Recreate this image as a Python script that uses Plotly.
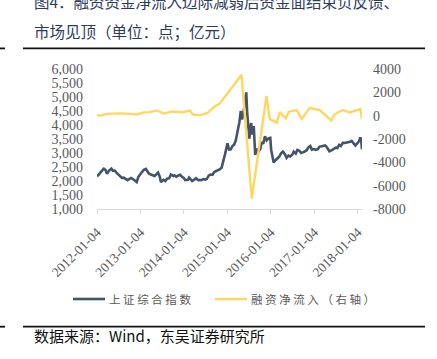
import plotly.graph_objects as go

# ---------------- data ----------------
sh_dates = [
    "2012-01-04","2012-01-16","2012-02-01","2012-02-15","2012-03-01","2012-03-15","2012-03-28","2012-04-16",
    "2012-05-04","2012-05-16","2012-06-01","2012-06-15","2012-07-02","2012-07-16","2012-08-01","2012-08-15",
    "2012-09-03","2012-09-17","2012-10-08","2012-10-15","2012-11-01","2012-11-15","2012-12-03","2012-12-17",
    "2013-01-04","2013-01-15","2013-02-01","2013-02-18","2013-03-01","2013-03-15","2013-04-01","2013-04-15",
    "2013-05-02","2013-05-15","2013-05-31","2013-06-14","2013-06-25","2013-07-15","2013-08-01","2013-08-15",
    "2013-09-02","2013-09-16","2013-10-08","2013-10-15","2013-11-01","2013-11-15","2013-12-02","2013-12-16",
    "2014-01-02","2014-01-15","2014-02-07","2014-02-17","2014-03-03","2014-03-14","2014-04-01","2014-04-15",
    "2014-05-05","2014-05-15","2014-06-03","2014-06-16","2014-07-01","2014-07-15","2014-08-01","2014-08-15",
    "2014-09-01","2014-09-15","2014-10-08","2014-10-15","2014-11-03","2014-11-17","2014-12-01","2014-12-15",
    "2015-01-05","2015-01-19","2015-02-02","2015-02-16","2015-03-02","2015-03-16","2015-04-01","2015-04-15",
    "2015-04-27","2015-05-07","2015-05-20","2015-06-01","2015-06-12","2015-06-19","2015-06-29","2015-07-08",
    "2015-07-15","2015-07-24","2015-07-28","2015-08-14","2015-08-26","2015-09-07","2015-09-15","2015-10-08",
    "2015-10-19","2015-11-02","2015-11-16","2015-12-01","2015-12-15","2015-12-31",
    "2016-01-07","2016-01-15","2016-01-28","2016-02-15","2016-03-01","2016-03-15","2016-04-01","2016-04-15",
    "2016-05-03","2016-05-16","2016-06-01","2016-06-15","2016-07-01","2016-07-15","2016-08-01","2016-08-15",
    "2016-09-01","2016-09-15","2016-10-10","2016-10-17","2016-11-01","2016-11-15","2016-12-01","2016-12-15",
    "2017-01-03","2017-01-16","2017-02-03","2017-02-15","2017-03-01","2017-03-15","2017-04-05","2017-04-17",
    "2017-05-02","2017-05-11","2017-06-01","2017-06-15","2017-07-03","2017-07-17","2017-08-01","2017-08-15",
    "2017-09-01","2017-09-15","2017-10-09","2017-10-16","2017-11-01","2017-11-14","2017-12-01","2017-12-15",
    "2018-01-02","2018-01-15","2018-01-26","2018-02-02","2018-02-09",
]
sh_values = [
    2170,2210,2300,2360,2440,2400,2260,2380,
    2440,2370,2370,2300,2220,2180,2110,2120,
    2050,2030,2090,2110,2070,2020,1960,2150,
    2270,2310,2400,2430,2360,2270,2230,2200,
    2180,2230,2300,2160,1960,2040,2000,2080,
    2100,2230,2180,2200,2150,2190,2220,2160,
    2110,2030,2040,2120,2060,2000,2050,2100,
    2030,2030,2040,2070,2050,2070,2200,2230,
    2220,2320,2360,2370,2420,2480,2680,2950,
    3350,3120,3130,3250,3300,3450,3800,4100,
    4500,4200,4450,4800,5166,4480,4050,3510,
    3850,4070,3660,3960,2930,3160,3000,3140,
    3390,3330,3600,3450,3520,3540,
    3120,2900,2660,2750,2800,2870,3000,3050,
    2950,2830,2910,2880,2930,3050,2980,3110,
    3080,3000,3040,3060,3100,3200,3250,3120,
    3140,3110,3140,3220,3240,3240,3270,3220,
    3140,3060,3100,3130,3190,3180,3290,3250,
    3360,3360,3370,3390,3400,3430,3320,3270,
    3350,3420,3560,3460,3130,
]

mf_dates = [
    "2012-01-04","2012-01-29","2012-03-28","2012-07-15","2012-10-07","2012-12-05",
    "2013-02-02","2013-03-24","2013-05-22","2013-07-20","2013-09-25","2013-12-26",
    "2014-02-23","2014-03-20","2014-05-18","2014-07-24","2014-09-21","2014-11-02",
    "2015-05-03","2015-07-28","2015-11-29","2015-12-27",
    "2016-02-23","2016-03-20","2016-05-09","2016-06-03","2016-08-09","2016-09-20","2016-11-27",
    "2017-02-18","2017-05-27","2017-06-23","2017-08-30","2017-10-27",
    "2018-01-26","2018-02-09",
]
mf_values = [
    50,0,150,200,150,100,
    280,300,450,180,350,300,
    430,100,30,250,800,1050,
    3500,-7100,1700,-300,
    -600,300,-250,340,480,-290,680,
    480,-400,120,490,280,
    560,-290,
]

x_tick_labels = ["2012-01-04","2013-01-04","2014-01-04","2015-01-04","2016-01-04","2017-01-04","2018-01-04"]
y2_tick_vals = [4000, 2000, 0, -2000, -4000, -6000, -8000]
y2_tick_text = ["4000", "2000", "0", "-2000", "-4000", "-6000", "-8000"]

name_sh = "上证综合指数"
name_mf = "融资净流入（右轴）"

# ---------------- figure ----------------
BLUE = "#44546A"
GOLD = "#FFD760"
GREY = "#595959"
CJK = "Noto Sans CJK SC"
SERIF = "'Liberation Serif', 'Times New Roman', 'DejaVu Serif', serif"

W, H = 437, 359
L, R, T, B = 97, 75, 69, 150
pw, ph = W - L - R, H - T - B

def px(xp):
    return (xp - L) / pw

def py(yp):
    return (H - B - yp) / ph

fig = go.Figure()
fig.add_trace(go.Scatter(x=sh_dates, y=sh_values, mode="lines", name=name_sh,
                         line=dict(color=BLUE, width=2.6), yaxis="y", showlegend=False))
fig.add_trace(go.Scatter(x=mf_dates, y=mf_values, mode="lines", name=name_mf,
                         line=dict(color=GOLD, width=2.4), yaxis="y2", showlegend=False))

fig.update_layout(
    width=W, height=H,
    margin=dict(l=L, r=R, t=T, b=B, autoexpand=False),
    paper_bgcolor="white", plot_bgcolor="white",
    xaxis=dict(
        type="date", range=["2012-01-04", "2018-02-09"],
        tickvals=x_tick_labels, ticktext=x_tick_labels, tickangle=-45,
        tickfont=dict(family=SERIF, size=13.5, color=GREY),
        showgrid=False, zeroline=False,
        showline=True, linecolor="#D9D9D9", linewidth=1,
        ticks="outside", ticklen=4, tickcolor="#D9D9D9",
        ticklabelstandoff=5,
        automargin=False,
    ),
    yaxis=dict(
        range=[1000, 6000], dtick=500, tickformat=",",
        tickfont=dict(family=SERIF, size=14, color=GREY),
        showgrid=False, zeroline=False, showline=False,
        ticklabelstandoff=13, automargin=False,
    ),
    yaxis2=dict(
        range=[-8000, 4000], overlaying="y", side="right",
        tickvals=y2_tick_vals, ticktext=y2_tick_text,
        tickfont=dict(family=SERIF, size=14, color=GREY),
        showgrid=False, zeroline=False, showline=False,
        ticklabelstandoff=10, automargin=False,
    ),
)

# rules drawn as thin filled rectangles
for ytop in (47.5, 325.8):
    fig.add_shape(type="rect", xref="paper", yref="paper",
                  x0=px(23), x1=px(425), y0=py(ytop + 1.8), y1=py(ytop),
                  line=dict(width=0), fillcolor="#111111", layer="above")
    fig.add_shape(type="rect", xref="paper", yref="paper",
                  x0=px(0), x1=px(5), y0=py(ytop + 1.8), y1=py(ytop),
                  line=dict(width=0), fillcolor="#111111", layer="above")

# legend
ly = py(299)
fig.add_shape(type="line", xref="paper", yref="paper", x0=px(73), x1=px(105), y0=ly, y1=ly,
              line=dict(color=BLUE, width=2.6))
fig.add_shape(type="line", xref="paper", yref="paper", x0=px(215), x1=px(247), y0=ly, y1=ly,
              line=dict(color=GOLD, width=2.4))

def spaced(s):
    return " ".join(list(s))

fig.add_annotation(x=px(107), y=ly, xref="paper", yref="paper", xanchor="left", yanchor="middle",
                   text=spaced(name_sh), showarrow=False, font=dict(family=CJK, size=11.5, color=GREY))
fig.add_annotation(x=px(249), y=ly, xref="paper", yref="paper", xanchor="left", yanchor="middle",
                   text=spaced(name_mf), showarrow=False, font=dict(family=CJK, size=11.5, color=GREY))

# title (first line is partly cut by the top edge, as in the reference)
TITLE_C = "#2E3B5B"
fig.add_annotation(x=px(32), y=py(1), xref="paper", yref="paper", xanchor="left", yanchor="middle",
                   text="图4：融资资金净流入边际减弱后资金面结束负反馈、", showarrow=False,
                   font=dict(family=CJK, size=15.5, color=TITLE_C))
fig.add_annotation(x=px(32), y=py(31), xref="paper", yref="paper", xanchor="left", yanchor="middle",
                   text="市场见顶（单位：点；亿元）", showarrow=False,
                   font=dict(family=CJK, size=15.5, color=TITLE_C))

# source
fig.add_annotation(x=px(32), y=py(335), xref="paper", yref="paper", xanchor="left", yanchor="middle",
                   text="数据来源：Wind，东吴证券研究所", showarrow=False,
                   font=dict(family=CJK, size=15, color="#111111"))

fig.write_html("out.html", config={"displayModeBar": False},
               post_script="document.body.style.margin='0';")
